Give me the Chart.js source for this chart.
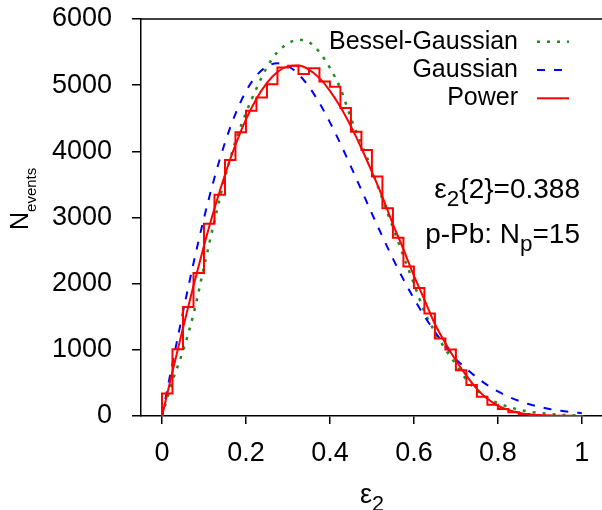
<!DOCTYPE html>
<html>
<head>
<meta charset="utf-8">
<script src="https://cdn.jsdelivr.net/npm/chart.js@4.4.1/dist/chart.umd.min.js"></script>
<style>
  html, body { margin: 0; padding: 0; background: #fff; overflow: hidden; }
  #chart { display: block; }
</style>
</head>
<body>
<canvas id="chart" width="602" height="510"></canvas>
<script>
/* ─────────────────────────────────────────
   DATA
───────────────────────────────────────── */
const binWidth = 0.025;
const histCounts = [
  340, 1010, 1648, 2161, 2905, 3342, 3870, 4287, 4613, 4814,
  5015, 5266, 5292, 5167, 5257, 5055, 4975, 4654, 4297, 4020,
  3618, 3141, 2694, 2261, 1935, 1548, 1171, 1005, 693, 467,
  291, 170, 106, 55, 30, 15, 8, 4, 2, 1
];

const epsGrid = [
  0, 0.025, 0.05, 0.075, 0.1, 0.125, 0.15, 0.175, 0.2, 0.225,
  0.25, 0.275, 0.3, 0.325, 0.35, 0.375, 0.4, 0.425, 0.45, 0.475,
  0.5, 0.525, 0.55, 0.575, 0.6, 0.625, 0.65, 0.675, 0.7, 0.725,
  0.75, 0.775, 0.8, 0.825, 0.85, 0.875, 0.9, 0.925, 0.95, 0.975, 1.0
];

const powerVals = [
  0, 671, 1331, 1969, 2574, 3136, 3646, 4097, 4482, 4796,
  5036, 5199, 5284, 5296, 5235, 5106, 4915, 4670, 4377, 4047,
  3690, 3313, 2900, 2520, 2120, 1760, 1390, 1100, 840, 610,
  410, 260, 158, 92, 48, 22, 10, 4, 1, 0, 0
];

const gaussVals = [
  0, 795, 1571, 2309, 2991, 3602, 4131, 4567, 4906, 5145,
  5285, 5330, 5287, 5166, 4976, 4729, 4438, 4115, 3770, 3415,
  3059, 2712, 2379, 2065, 1775, 1509, 1272, 1061, 860, 717,
  581, 467, 371, 293, 229, 177, 136, 103, 78, 58, 43
];

const besselVals = [
  0, 530, 980, 1540, 2250, 2950, 3600, 4150, 4580, 4950,
  5270, 5500, 5630, 5685, 5650, 5500, 5260, 4950, 4500, 4110,
  3720, 3280, 2850, 2420, 2000, 1580, 1270, 1010, 780, 550,
  390, 275, 195, 140, 95, 65, 45, 30, 18, 12, 8
];

const xTicks = [0, 0.2, 0.4, 0.6, 0.8, 1];
const yTicks = [0, 1000, 2000, 3000, 4000, 5000, 6000];
const legendLabels = ['Bessel-Gaussian', 'Gaussian', 'Power'];

/* ─────────────────────────────────────────
   Build points
───────────────────────────────────────── */
const histPoints = [{ x: 0, y: 0 }]
  .concat(histCounts.map((c, i) => ({ x: i * binWidth, y: c })))
  .concat([{ x: histCounts.length * binWidth, y: 0 }]);

const toXY = (vals) => vals.map((v, i) => ({ x: epsGrid[i], y: v }));

const FONT = "'Liberation Sans', Arial, Helvetica, sans-serif";
Chart.defaults.font.family = FONT;
Chart.defaults.color = '#000';

/* ─────────────────────────────────────────
   Rich text helper (subscripts)
───────────────────────────────────────── */
function drawRich(ctx, parts, x, y, size, align, subScale) {
  const subSize = size * (subScale || 0.8);
  const drop = size * 0.3;
  const widths = parts.map(p => {
    ctx.font = (p.sub ? subSize : size) + 'px ' + FONT;
    return ctx.measureText(p.t).width;
  });
  const total = widths.reduce((a, b) => a + b, 0);
  let cx = align === 'right' ? x - total : align === 'center' ? x - total / 2 : x;
  ctx.textAlign = 'left';
  ctx.textBaseline = 'alphabetic';
  parts.forEach((p, i) => {
    ctx.font = (p.sub ? subSize : size) + 'px ' + FONT;
    ctx.fillText(p.t, cx, p.sub ? y + drop : y);
    cx += widths[i];
  });
}

const decorPlugin = {
  id: 'decor',
  afterDraw(chart) {
    const ctx = chart.ctx;
    const { left, right, top } = chart.chartArea;
    const xs = chart.scales.x;
    ctx.save();

    // top frame line
    ctx.strokeStyle = '#000';
    ctx.lineWidth = 1.5;
    ctx.beginPath();
    ctx.moveTo(left, top);
    ctx.lineTo(right, top);
    ctx.stroke();

    // legend: text right-aligned, sample line on the right
    ctx.fillStyle = '#000';
    legendLabels.forEach((lab, i) => {
      const ds = chart.data.datasets.find(d => d.label === lab);
      const rowY = 41.7 + i * 28.3;
      ctx.font = '25px ' + FONT;
      ctx.textAlign = 'right';
      ctx.textBaseline = 'middle';
      ctx.fillText(lab, 518, rowY);
      ctx.strokeStyle = ds.borderColor;
      ctx.lineWidth = ds.borderWidth;
      ctx.setLineDash(ds.borderDash || []);
      ctx.beginPath();
      ctx.moveTo(537, rowY);
      ctx.lineTo(569, rowY);
      ctx.stroke();
      ctx.setLineDash([]);
    });

    // annotation
    drawRich(ctx, [{ t: 'ε' }, { t: '2', sub: true }, { t: '{2}=0.388' }], 580, 198, 28, 'right');
    drawRich(ctx, [{ t: 'p-Pb: N' }, { t: 'p', sub: true }, { t: '=15' }], 580, 243, 28, 'right');

    // x title
    drawRich(ctx, [{ t: 'ε' }, { t: '2', sub: true }], xs.getPixelForValue(0.5), 503, 27, 'center');

    // y title (rotated)
    ctx.translate(28, 230);
    ctx.rotate(-Math.PI / 2);
    drawRich(ctx, [{ t: 'N' }, { t: 'events', sub: true }], 0, 0, 25, 'left', 0.6);

    ctx.restore();
  }
};

/* ─────────────────────────────────────────
   CHART
───────────────────────────────────────── */
new Chart(document.getElementById('chart'), {
  type: 'line',
  data: {
    datasets: [
      {
        label: 'Power',
        data: toXY(powerVals),
        borderColor: '#ff0000',
        borderWidth: 2,
        cubicInterpolationMode: 'monotone',
        pointRadius: 0,
        fill: false,
        order: 1
      },
      {
        label: 'Histogram',
        data: histPoints,
        borderColor: '#ff0000',
        borderWidth: 2,
        stepped: 'before',
        pointRadius: 0,
        fill: false,
        order: 2
      },
      {
        label: 'Gaussian',
        data: toXY(gaussVals),
        borderColor: '#0000ff',
        borderWidth: 2,
        borderDash: [8, 9],
        cubicInterpolationMode: 'monotone',
        pointRadius: 0,
        fill: false,
        order: 3
      },
      {
        label: 'Bessel-Gaussian',
        data: toXY(besselVals),
        borderColor: '#228b22',
        borderWidth: 2.5,
        borderDash: [3, 7],
        cubicInterpolationMode: 'monotone',
        pointRadius: 0,
        fill: false,
        order: 4
      }
    ]
  },
  options: {
    responsive: false,
    animation: false,
    layout: { padding: { top: 19, right: 0, left: 0, bottom: 0 } },
    plugins: {
      legend: { display: false },
      tooltip: { enabled: false }
    },
    scales: {
      x: {
        type: 'linear',
        min: -0.05,
        max: 1.048,
        afterFit: (s) => { s.height = 94; s.paddingLeft = 0; s.paddingRight = 0; },
        afterBuildTicks: (s) => { s.ticks = xTicks.map(v => ({ value: v })); },
        border: { display: true, color: '#000', width: 1.5 },
        grid: { drawOnChartArea: false, drawTicks: true, tickLength: 8, color: '#000', lineWidth: 1.5 },
        ticks: {
          padding: 13,
          maxRotation: 0,
          font: { size: 27 },
          color: '#000',
          callback: (v) => String(v)
        }
      },
      y: {
        min: 0,
        max: 6000,
        afterFit: (s) => { s.width = 141; s.paddingTop = 0; s.paddingBottom = 0; },
        afterBuildTicks: (s) => { s.ticks = yTicks.map(v => ({ value: v })); },
        border: { display: true, color: '#000', width: 1.5 },
        grid: { drawOnChartArea: false, drawTicks: true, tickLength: 9, color: '#000', lineWidth: 1.5 },
        ticks: {
          padding: 20,
          font: { size: 27 },
          color: '#000',
          callback: (v) => String(v)
        }
      }
    }
  },
  plugins: [decorPlugin]
});
</script>
</body>
</html>
